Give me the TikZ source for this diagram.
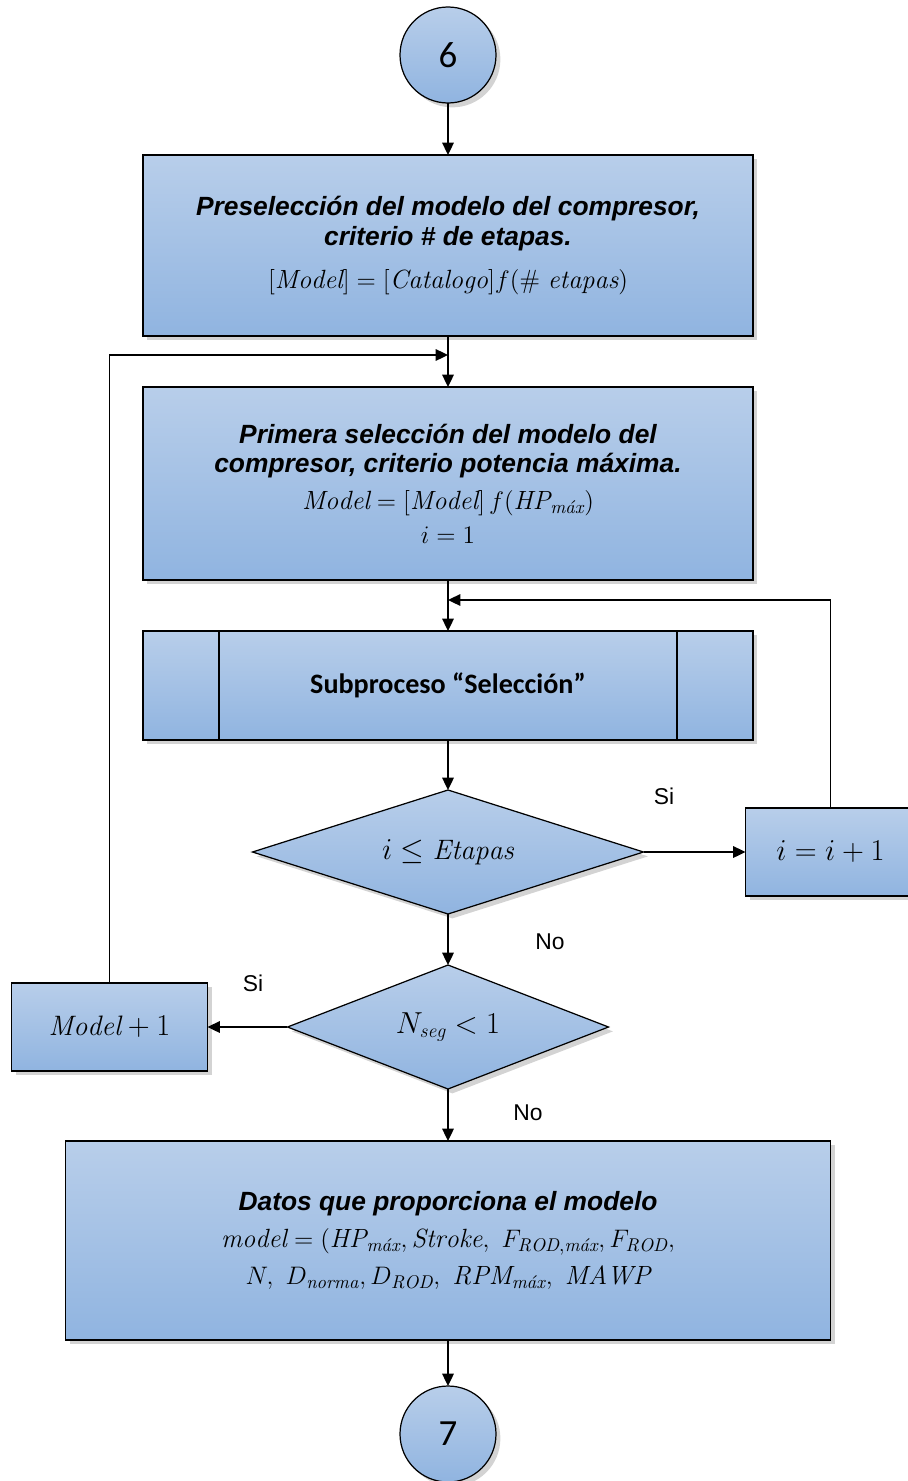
\documentclass[tikz,border=0pt]{standalone}
\usepackage{amsmath}
\usepackage{fontspec}
\newfontfamily\arial{Liberation Sans}
\newfontfamily\calibri{Carlito}
\usetikzlibrary{arrows.meta, shapes.geometric, positioning, shadows}

\definecolor{boxtop}{RGB}{184,206,234}
\definecolor{boxbottom}{RGB}{144,180,224}
\newcommand{\tf}{\arial\bfseries\itshape}
\newcommand{\mx}{\text{\itshape máx}}

\begin{document}
\begin{tikzpicture}[>={Triangle[length=7pt, width=6.5pt]}, line width=1.1pt,
	fillblue/.style={draw=black, line width=0.7pt, outer sep=0pt, top color=boxtop, bottom color=boxbottom,
		drop shadow={shadow xshift=2.5pt, shadow yshift=-2.5pt, opacity=0.35}},
	block/.style={fillblue, rectangle, align=flush center, inner sep=0pt, minimum width=12.2cm,
		text width=11.8cm, font=\fontsize{15}{17}\selectfont},
	small/.style={fillblue, rectangle, inner sep=0pt, minimum height=1.76cm, font=\fontsize{16}{18}\selectfont},
	decision/.style={fillblue, diamond, inner sep=0pt, minimum height=2.48cm, font=\fontsize{16}{18}\selectfont},
	connector/.style={fillblue, circle, inner sep=0pt, minimum size=1.92cm, font=\calibri\fontsize{21}{21}\selectfont},
	lbl/.style={font=\arial\fontsize{13}{15}\selectfont}]
		\useasboundingbox (0,0) rectangle (18.16,-29.62);

		\node[connector] (c6) at (8.96,-1.1) {6};
		\node[block, minimum height=3.62cm] (pre) [below=1.04cm of c6]
			{{\tf Preselección del modelo del compresor,}\\
			 {\tf criterio \# de etapas.}\\[7pt]
			 $[\mathit{Model}] = [\mathit{Catalogo}]f(\#\ \mathit{etapas})$};
		\node[block, minimum height=3.86cm] (sel) [below=1.02cm of pre]
			{{\tf Primera selección del modelo del}\\
			 {\tf compresor, criterio potencia máxima.}\\[4pt]
			 $\mathit{Model} = [\mathit{Model}]\, f(\mathit{HP}_{\mx})$\\[2pt]
			 $i = 1$};
		\node[block, minimum height=2.18cm, font=\calibri\bfseries\fontsize{16}{18}\selectfont] (sub) [below=1.02cm of sel]
			{Subproceso “Selección”};
		\node[decision, minimum width=7.82cm, aspect=3.15] (d1) [below=1cm of sub] {$i \le \mathit{Etapas}$};
		\node[small, minimum width=3.4cm] (inc) [right=2.04cm of d1] {$i = i + 1$};
		\node[decision, minimum width=6.42cm, aspect=2.6] (d2) [below=1.02cm of d1] {$N_{\mathit{seg}} < 1$};
		\node[small, minimum width=3.92cm] (mod) [left=1.6cm of d2] {$\mathit{Model} + 1$};
		\node[block, minimum width=15.3cm, minimum height=3.98cm, text width=14.8cm] (dat) [below=1.04cm of d2]
			{{\tf Datos que proporciona el modelo}\\[4pt]
			 $\mathit{model} = (\mathit{HP}_{\mx}, \mathit{Stroke},\ F_{\mathit{ROD},\mx}, F_{\mathit{ROD}},$\\[4pt]
			 $N,\ D_{\mathit{norma}}, D_{\mathit{ROD}},\ \mathit{RPM}_{\mx},\ \mathit{MAWP}$};
		\node[connector] (c7) [below=0.92cm of dat] {7};

		% subprocess side bars
		\draw[line width=0.7pt] ([xshift=1.52cm]sub.north west) -- ([xshift=1.52cm]sub.south west);
		\draw[line width=0.7pt] ([xshift=-1.52cm]sub.north east) -- ([xshift=-1.52cm]sub.south east);

		% junctions of the two loops
		\coordinate[below=0.38cm of pre] (j1);
		\coordinate[below=0.4cm of sel] (j2);

		\path[->] (c6) edge (pre);
		\path[->] (pre) edge (sel);
		\path[->] (sel) edge (sub);
		\path[->] (sub) edge (d1);
		\path[->] (d1) edge (inc);
		\path[->] (d1) edge (d2);
		\path[->] (d2) edge (mod);
		\path[->] (d2) edge (dat);
		\path[->] (dat) edge (c7);
		\draw[->] (inc.north) |- (j2);
		\draw[->] (mod.north) |- (j1);

		\node[lbl] (si1) at (13.28,-15.92) {Si};
		\node[lbl] (no1) at (11.0,-18.84) {No};
		\node[lbl] (si2) at (5.06,-19.66) {Si};
		\node[lbl] (no2) at (10.56,-22.26) {No};
	\end{tikzpicture}
\end{document}
